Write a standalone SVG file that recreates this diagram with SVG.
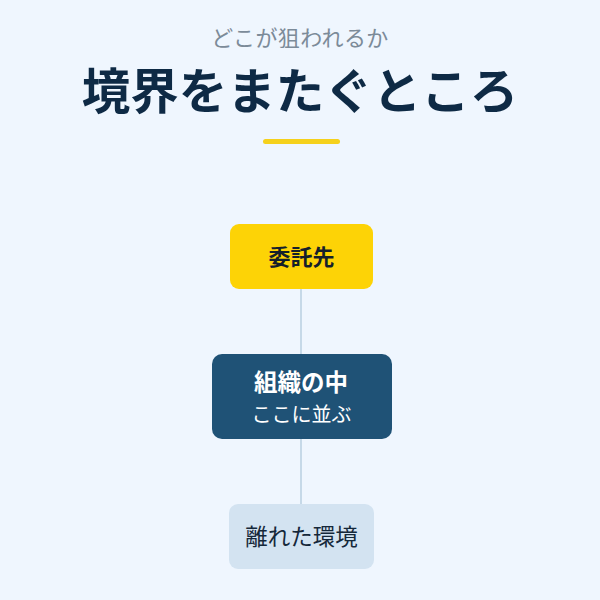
<svg xmlns="http://www.w3.org/2000/svg" width="600" height="600" viewBox="0 0 600 600">
<style>
text{font-family:"Noto Sans CJK JP","Noto Sans",sans-serif;text-anchor:middle}
.sub{font-size:22px;fill:#7C8B99;letter-spacing:0.4px}
.title{font-size:48.5px;font-weight:700;fill:#0E2A45}
.conn{stroke:#C6D9E8;stroke-width:2;fill:none}
.n1{fill:#FDD306}
.n2{fill:#1F5276}
.n3{fill:#D3E3F1}
.t1{font-size:22px;font-weight:700;fill:#15202B}
.t2{font-size:23.5px;font-weight:700;fill:#FFFFFF}
.t2s{font-size:20px;fill:#FFFFFF}
.t3{font-size:22.5px;fill:#15283A}
</style>
<rect width="600" height="600" fill="#EFF6FE"/>
<text class="sub" x="300" y="46">どこが狙われるか</text>
<text class="title" x="300" y="109">境界をまたぐところ</text>
<rect x="263" y="139" width="77" height="5" rx="2.5" fill="#F5D11C"/>
<g id="connectors">
<line class="conn" x1="301" y1="289" x2="301" y2="354"/>
<line class="conn" x1="301" y1="439" x2="301" y2="504"/>
</g>
<g id="node-itakusaki">
<rect class="n1" x="230" y="224" width="143" height="65" rx="9"/>
<text class="t1" x="301.5" y="265">委託先</text>
</g>
<g id="node-soshiki">
<rect class="n2" x="212" y="354" width="180" height="85" rx="10"/>
<text class="t2" x="301" y="391">組織の中</text>
<text class="t2s" x="301.5" y="422">ここに並ぶ</text>
</g>
<g id="node-hanareta">
<rect class="n3" x="229" y="504" width="145" height="65" rx="9"/>
<text class="t3" x="301.5" y="545">離れた環境</text>
</g>
</svg>
